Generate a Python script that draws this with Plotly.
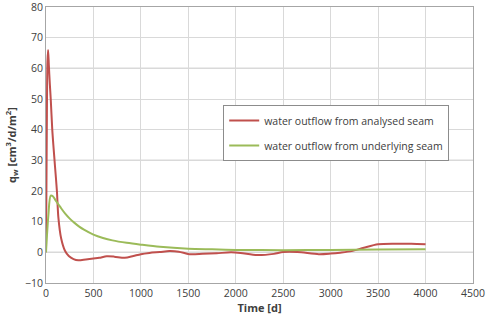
import plotly.graph_objects as go

# Time axis [d] and outflow rates [cm3/d/m2]
time_analysed = [0, 8, 15, 22, 30, 40, 50, 66, 80, 95, 115, 130, 160, 200, 240, 290,
                 340, 420, 500, 560, 640, 720, 830, 920, 1000, 1090, 1200, 1300, 1400,
                 1510, 1650, 1800, 1950, 2050, 2225, 2400, 2500, 2650, 2875, 3000,
                 3100, 3220, 3350, 3500, 3680, 3850, 4000]
outflow_analysed = [0, 38, 62, 66, 61, 55, 50, 40, 34, 28, 20, 11.5, 4.5, 0.5, -1.2, -2.2,
                    -2.6, -2.3, -2.0, -1.8, -1.3, -1.4, -1.8, -1.2, -0.6, -0.2, 0.1, 0.4,
                    0.2, -0.6, -0.5, -0.3, 0, -0.2, -0.9, -0.5, 0.1, 0.1, -0.6, -0.4,
                    -0.1, 0.4, 1.5, 2.6, 2.8, 2.8, 2.6]

time_underlying = [0, 25, 50, 75, 100, 150, 200, 250, 300, 350, 400, 500, 600, 700,
                   850, 1000, 1200, 1500, 1750, 2000, 2500, 3000, 3500, 4000]
outflow_underlying = [0, 12, 18.5, 18.2, 17.0, 14.8, 12.7, 11.0, 9.6, 8.4, 7.4, 5.8,
                      4.7, 3.9, 3.1, 2.5, 1.8, 1.2, 1.0, 0.8, 0.7, 0.8, 0.9, 1.0]

x_ticks = [0, 500, 1000, 1500, 2000, 2500, 3000, 3500, 4000, 4500]
y_ticks = [-10, 0, 10, 20, 30, 40, 50, 60, 70, 80]
dark_grid_levels = [0, 30, 60]

FONT = "Open Sans, Liberation Sans, sans-serif"
TICK_SIZE = 10.5

fig = go.Figure()
fig.add_trace(go.Scatter(
    x=time_analysed, y=outflow_analysed, mode="lines",
    name="water outflow from analysed seam", legendgroup="a",
    line=dict(color="#C0504D", width=2, shape="spline", smoothing=0.8),
))
fig.add_trace(go.Scatter(
    x=time_underlying, y=outflow_underlying, mode="lines",
    name="water outflow from underlying seam", legendgroup="b",
    line=dict(color="#9BBB59", width=2, shape="spline", smoothing=0.8),
))

# darker horizontal reference lines
for lvl in dark_grid_levels:
    fig.add_shape(type="line", xref="paper", x0=0, x1=1, yref="y", y0=lvl, y1=lvl,
                  line=dict(color="#8c8c8c", width=1), layer="below")

fig.update_layout(
    width=486, height=322,
    margin=dict(l=46, r=13, t=7, b=39),
    paper_bgcolor="white", plot_bgcolor="white",
    font=dict(family=FONT, size=11, color="#404040"),
    showlegend=True,
    legend=dict(
        x=0.415, y=0.645, xanchor="left", yanchor="top",
        bgcolor="white", bordercolor="#8c8c8c", borderwidth=1,
        font=dict(size=10.5, color="#404040"),
        itemwidth=30, traceorder="grouped", tracegroupgap=6,
    ),
    xaxis=dict(
        range=[0, 4500], tickvals=x_ticks, ticks="", ticklabeloverflow="allow",
        automargin=False,
        showgrid=True, gridcolor="#d9d9d9", gridwidth=1,
        showline=True, linecolor="#a6a6a6", mirror=True, zeroline=False,
        title=dict(text="<b>Time [d]</b>", font=dict(size=11, color="#404040"), standoff=4),
        tickfont=dict(size=TICK_SIZE, color="#404040"),
    ),
    yaxis=dict(
        range=[-10, 80], tickvals=y_ticks, ticks="", ticklabeloverflow="allow",
        automargin=False,
        showgrid=True, gridcolor="#d9d9d9", gridwidth=1,
        showline=True, linecolor="#a6a6a6", mirror=True, zeroline=False,
        title=dict(text="<b>q<sub>w</sub> [cm<sup>3</sup>/d/m<sup>2</sup>]</b>",
                   font=dict(size=11, color="#404040"), standoff=6),
        tickfont=dict(size=TICK_SIZE, color="#404040"),
    ),
)

fig.write_html("out.html")
